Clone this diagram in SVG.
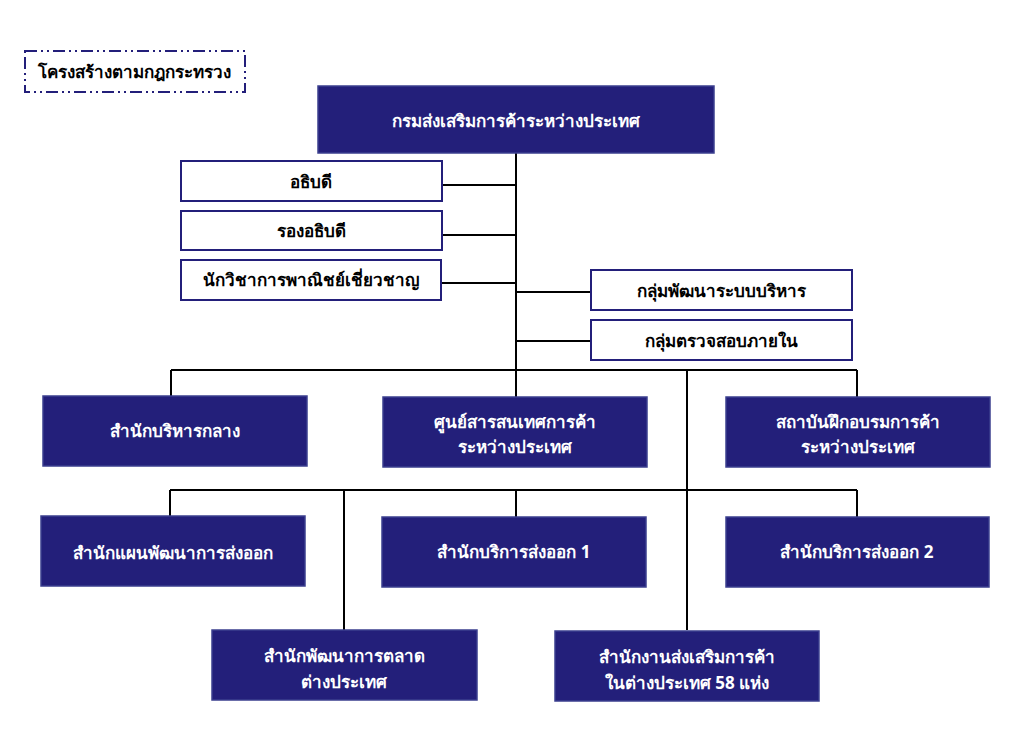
<svg xmlns="http://www.w3.org/2000/svg" width="1034" height="745" viewBox="0 0 1034 745">
<style>
.d{fill:#231f7a;stroke:#3b3f8f;stroke-width:1.5}
.w{fill:#fff;stroke:#231f7a;stroke-width:2}
.dt{fill:#fff;font-family:"Noto Sans","Liberation Sans",sans-serif;font-weight:bold;font-size:17px;text-anchor:middle}
.wt{fill:#000;font-family:"Noto Sans","Liberation Sans",sans-serif;font-weight:bold;font-size:17px;text-anchor:middle}
.c{stroke:#000;stroke-width:2;fill:none}
</style>
<rect width="1034" height="745" fill="#fff"/>
<g id="legend"><rect x="25" y="51" width="220" height="41" fill="#fff" stroke="#231f7a" stroke-width="2" stroke-dasharray="12,4,2,4,2,4"/><text x="134" y="78" class="wt" font-size="14">โครงสร้างตามกฎกระทรวง</text></g>
<g id="connectors" class="c">
<path d="M516 153V370M442 185H516M442 235H516M441 283H516M516 292H591M516 341H591"/>
<path d="M171 370H857M171 370V396M516 370V397M857 370V397M687 370V630"/>
<path d="M170 490H857M170 490V516M516 490V517M857 490V517M344 490V630"/>
</g>
<g id="n0"><rect class="d" x="318" y="86" width="396" height="67"/><text class="dt" x="516" y="127" font-size="22">กรมส่งเสริมการค้าระหว่างประเทศ</text></g>
<g id="n1"><rect class="w" x="181" y="161" width="261" height="40"/><text class="wt" x="311" y="188">อธิบดี</text></g>
<g id="n2"><rect class="w" x="181" y="211" width="261" height="39"/><text class="wt" x="311" y="237">รองอธิบดี</text></g>
<g id="n3"><rect class="w" x="181" y="260" width="260" height="40"/><text class="wt" x="311" y="286" font-size="15">นักวิชาการพาณิชย์เชี่ยวชาญ</text></g>
<g id="n4"><rect class="w" x="591" y="270" width="261" height="40"/><text class="wt" x="721" y="297">กลุ่มพัฒนาระบบบริหาร</text></g>
<g id="n5"><rect class="w" x="591" y="320" width="261" height="40"/><text class="wt" x="721" y="347">กลุ่มตรวจสอบภายใน</text></g>
<g id="n6"><rect class="d" x="43" y="396" width="264" height="70"/><text class="dt" x="175" y="437">สำนักบริหารกลาง</text></g>
<g id="n7"><rect class="d" x="383" y="397" width="264" height="70"/><text class="dt" x="515" y="428">ศูนย์สารสนเทศการค้า</text><text class="dt" x="515" y="453">ระหว่างประเทศ</text></g>
<g id="n8"><rect class="d" x="726" y="397" width="264" height="70"/><text class="dt" x="858" y="428">สถาบันฝึกอบรมการค้า</text><text class="dt" x="858" y="453">ระหว่างประเทศ</text></g>
<g id="n9"><rect class="d" x="41" y="516" width="264" height="70"/><text class="dt" x="173" y="559">สำนักแผนพัฒนาการส่งออก</text></g>
<g id="n10"><rect class="d" x="382" y="517" width="264" height="70"/><text class="dt" x="514" y="558">สำนักบริการส่งออก 1</text></g>
<g id="n11"><rect class="d" x="726" y="517" width="263" height="70"/><text class="dt" x="857" y="558">สำนักบริการส่งออก 2</text></g>
<g id="n12"><rect class="d" x="212" y="630" width="265" height="70"/><text class="dt" x="344" y="662">สำนักพัฒนาการตลาด</text><text class="dt" x="344" y="688">ต่างประเทศ</text></g>
<g id="n13"><rect class="d" x="555" y="631" width="264" height="70"/><text class="dt" x="687" y="663">สำนักงานส่งเสริมการค้า</text><text class="dt" x="687" y="689">ในต่างประเทศ 58 แห่ง</text></g>
</svg>
